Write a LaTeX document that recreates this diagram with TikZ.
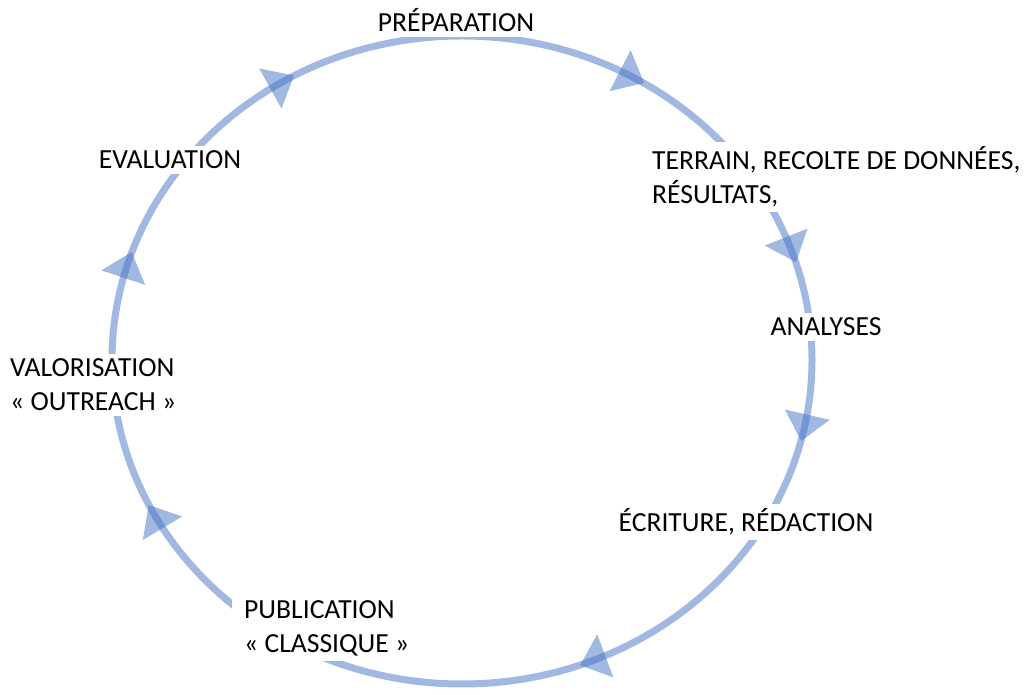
\documentclass[tikz,border=0pt]{standalone}
\usepackage{fontspec}
\setmainfont{Carlito}
\definecolor{cycleblue}{RGB}{68,114,196}
\begin{document}
\begin{tikzpicture}[x=1pt,y=1pt,
    stage/.style={fill=white, inner xsep=12pt, inner ysep=5pt, align=left, font=\fontsize{27.6}{34}\selectfont},
    cycleline/.style={draw=cycleblue, draw opacity=0.5, line width=7pt},
    cycletip/.style={fill=cycleblue, fill opacity=0.5}]
    \useasboundingbox (0,0) rectangle (1035,695);
    \draw[cycleline] (462,335) ellipse [x radius=350, y radius=324];
    \foreach \a in {61,20,-12,-68,209,163,121} {
      \pgfmathsetmacro\dir{atan2(-324*cos(\a),350*sin(\a))}
      \fill[cycletip, shift={({462+350*cos(\a)},{335+324*sin(\a)})}, rotate=\dir] (14,0) -- (-13,23) -- (-13,-23) -- cycle;
    }
    \node[stage] (prep) at (456,675) {PRÉPARATION};
    \node[stage, anchor=west] (terrain) at (640,518) {TERRAIN, RECOLTE DE DONNÉES,\\RÉSULTATS,};
    \node[stage] (analyses) at (826,368) {ANALYSES};
    \node[stage] (ecriture) at (746,173) {ÉCRITURE, RÉDACTION};
    \node[stage, anchor=west] (publi) at (232,67) {PUBLICATION\\« CLASSIQUE »};
    \node[stage, anchor=west] (valo) at (-2,310) {VALORISATION\\« OUTREACH »};
    \node[stage] (eval) at (170,535) {EVALUATION};
  \end{tikzpicture}
\end{document}
